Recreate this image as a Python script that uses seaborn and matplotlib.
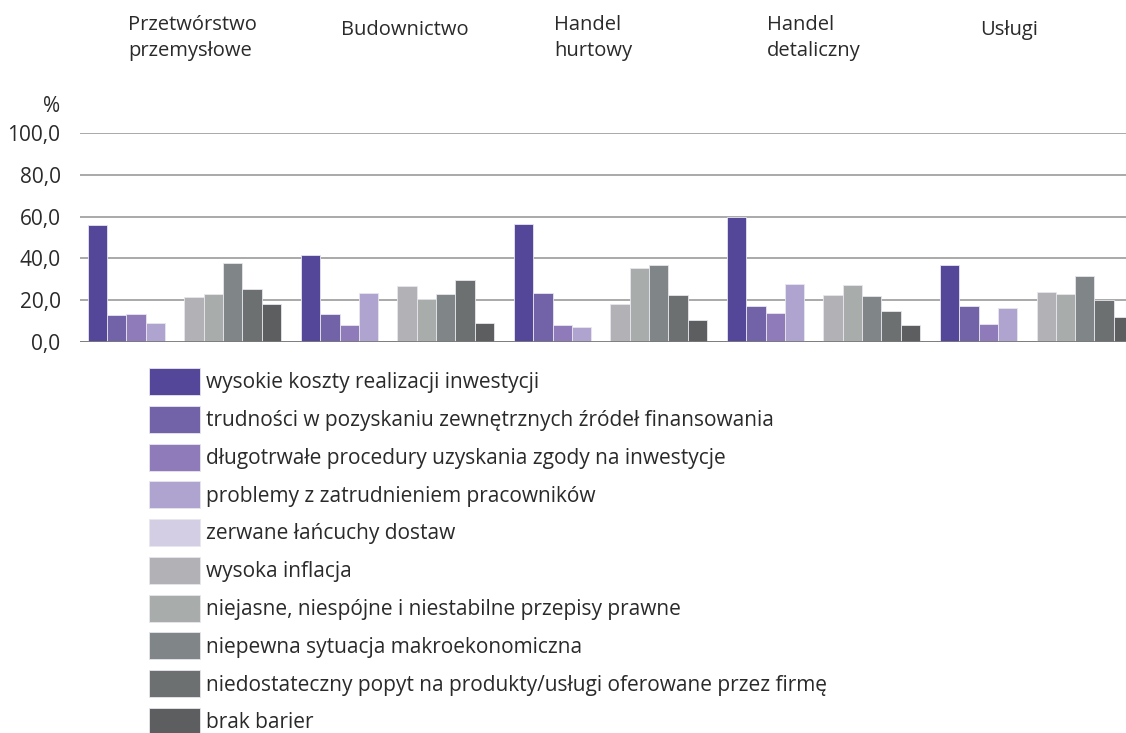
import matplotlib
matplotlib.use("Agg")
import matplotlib.pyplot as plt
import matplotlib.transforms as mtransforms
import numpy as np
import pandas as pd
import seaborn as sns

# Sectors (top labels) and barriers (legend)
sectors = ["Przetwórstwo\nprzemysłowe", "Budownictwo", "Handel\nhurtowy",
           "Handel\ndetaliczny", "Usługi"]
barriers = [
    "wysokie koszty realizacji inwestycji",
    "trudności w pozyskaniu zewnętrznych źródeł finansowania",
    "długotrwałe procedury uzyskania zgody na inwestycje",
    "problemy z zatrudnieniem pracowników",
    "zerwane łańcuchy dostaw",
    "wysoka inflacja",
    "niejasne, niespójne i niestabilne przepisy prawne",
    "niepewna sytuacja makroekonomiczna",
    "niedostateczny popyt na produkty/usługi oferowane przez firmę",
    "brak barier",
]

# values in %, one list per sector (order = barriers)
przetworstwo = [56.0, 13.0, 13.4, 9.2, 0.5, 21.6, 22.8, 37.7, 25.3, 18.1]
budownictwo = [41.7, 13.4, 8.3, 23.6, 0.0, 26.9, 20.7, 23.1, 29.6, 8.9]
hurt = [56.5, 23.6, 8.3, 7.3, 0.6, 18.0, 35.3, 36.8, 22.3, 10.5]
detal = [60.0, 17.0, 14.1, 27.9, 0.0, 22.4, 27.4, 21.8, 15.0, 8.1]
uslugi = [36.9, 17.3, 8.4, 16.5, 0.0, 24.0, 23.1, 31.4, 20.2, 12.1]

colors = ["#54479a", "#7262a8", "#8f7bb9", "#afa3cf", "#d4cee5",
          "#b2b1b6", "#a8acab", "#808587", "#6c7071", "#5d5e60"]

rows = []
for sec, vals in zip(sectors, [przetworstwo, budownictwo, hurt, detal, uslugi]):
    for b, v in zip(barriers, vals):
        rows.append({"sektor": sec, "bariera": b, "wartosc": v})
df = pd.DataFrame(rows)

sns.set_style("white")
plt.rcParams["font.family"] = ["Open Sans", "DejaVu Sans"]

W, H = 1126, 733
fig = plt.figure(figsize=(W / 100, H / 100), dpi=100)
ax = fig.add_axes([80 / W, 1 - 342 / H, 1046 / W, 209 / H])

sns.barplot(data=df, x="sektor", y="wartosc", hue="bariera",
            order=sectors, hue_order=barriers, palette=colors, saturation=1,
            width=0.906, errorbar=None, edgecolor="#e8e6ee",
            linewidth=0.6, ax=ax, zorder=3)

ax.set_xlim(-0.49, 4.42)
ax.set_ylim(0, 100)
ax.set_yticks([0, 20, 40, 60, 80, 100])
ax.set_yticklabels([f"{v:.1f}".replace(".", ",") for v in [0, 20, 40, 60, 80, 100]])
ax.tick_params(axis="y", length=0, pad=14, labelsize=15, labelcolor="#2a2a2a")
ax.set_xticks([])
ax.set_xlabel("")
ax.set_ylabel("")
for s in ax.spines.values():
    s.set_visible(False)
ax.yaxis.grid(True, color="#a9a9a9", linewidth=1.4, zorder=0)
ax.axhline(0, color="#7a7a7a", linewidth=2.0, zorder=4)

fig.text(60 / W, 1 - 107 / H, "%", ha="right", va="center",
         fontsize=15, color="#2a2a2a")

# sector labels above groups
trans = mtransforms.blended_transform_factory(ax.transData, fig.transFigure)
for i, sec in enumerate(sectors):
    y = 38 if "\n" in sec else 30
    ax.text(i - 0.265, 1 - y / H, sec, transform=trans, ha="left", va="center",
            fontsize=14.5, color="#2a2a2a", linespacing=1.35)

handles, labels = ax.get_legend_handles_labels()
ax.legend(handles, labels, loc="upper left",
          bbox_to_anchor=(149 / W, 1 - 368 / H), bbox_transform=fig.transFigure,
          frameon=False, fontsize=15, handlelength=2.45, handleheight=1.62,
          labelspacing=0.515, handletextpad=0.29, borderpad=0, borderaxespad=0,
          labelcolor="#2a2a2a")

fig.savefig("out.png", dpi=100)
